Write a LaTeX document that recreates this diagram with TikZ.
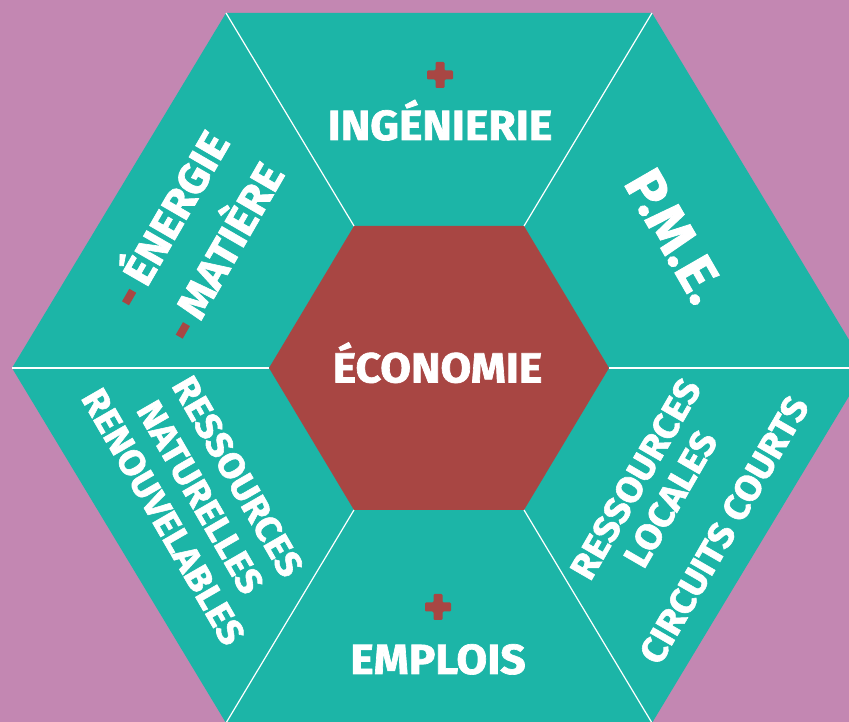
\documentclass[tikz,border=0pt]{standalone}
\usepackage{fontspec}
\setmainfont{Fira Sans}[BoldFeatures={FakeBold=1.6, FakeStretch=1.06}]
\definecolor{bgpurple}{HTML}{C387B2}
\definecolor{hexteal}{HTML}{1CB5A7}
\definecolor{hexred}{HTML}{A84643}
\newcommand{\reddash}{\textcolor{hexred}{\rule[7pt]{14.5pt}{8pt}}\hspace{9pt}}
\begin{document}
\begin{tikzpicture}[x=1pt,y=1pt,
  lbl/.style={text=white, inner sep=0pt, anchor=center, text depth=0pt},
  title/.style={lbl, font=\fontsize{42}{48}\selectfont\bfseries, text height=28.9pt},
  sidetxt/.style={lbl, font=\fontsize{42}{48}\selectfont\bfseries, text height=28.9pt},
  smalltxt/.style={lbl, font=\fontsize{36}{42}\selectfont\bfseries, text height=24.8pt},
  bigtxt/.style={lbl, font=\fontsize{54}{60}\selectfont\bfseries, text height=37.2pt},
  divider/.style={white, line width=1.2pt},
  plussign/.style={fill=hexred, rounded corners=1.2pt}]
\useasboundingbox (0,0) rectangle (849,722);
\clip (0,0) rectangle (849,722);
\fill[bgpurple] (0,0) rectangle (849,722);
% outer hexagon vertices
\coordinate (O1) at (226,709);
\coordinate (O2) at (652,709);
\coordinate (O3) at (866,354);
\coordinate (O4) at (652,-1);
\coordinate (O5) at (226,-1);
\coordinate (O6) at (12,354);
% inner hexagon vertices
\coordinate (I1) at (354,496);
\coordinate (I2) at (524,496);
\coordinate (I3) at (609,354);
\coordinate (I4) at (524,212);
\coordinate (I5) at (354,212);
\coordinate (I6) at (269,354);
\fill[hexteal] (O1)--(O2)--(O3)--(O4)--(O5)--(O6)--cycle;
\fill[hexred] (I1)--(I2)--(I3)--(I4)--(I5)--(I6)--cycle;
\foreach \k in {1,...,6}{\draw[divider] (I\k) -- (O\k);}
% plus signs
\fill[plussign] (435.5,660)--(444.5,660)--(444.5,651.5)--(453,651.5)--(453,642.5)--(444.5,642.5)--(444.5,634)--(435.5,634)--(435.5,642.5)--(427,642.5)--(427,651.5)--(435.5,651.5)--cycle;
\fill[plussign] (433.5,128)--(442.5,128)--(442.5,119.5)--(451,119.5)--(451,110.5)--(442.5,110.5)--(442.5,102)--(433.5,102)--(433.5,110.5)--(425,110.5)--(425,119.5)--(433.5,119.5)--cycle;
% texts
\node[title] (eco) at (437.5,354) {ÉCONOMIE};
\node[title] (ing) at (440,596.5) {INGÉNIERIE};
\node[title] (emp) at (438,62.5) {EMPLOIS};
\node[bigtxt, rotate=-60] (pme) at (675,486) {P.M.E.};
\node[sidetxt, rotate=60] (ener) at (170.5,503.5) {\reddash ÉNERGIE};
\node[sidetxt, rotate=60] (mat) at (224.7,471) {\reddash MATIÈRE};
\node[smalltxt, rotate=-60] (rn1) at (237.8,245.5) {RESSOURCES};
\node[smalltxt, rotate=-60] (rn2) at (200.3,224.8) {NATURELLES};
\node[smalltxt, rotate=-60] (rn3) at (163.3,205.3) {RENOUVELABLES};
\node[smalltxt, rotate=60] (rl1) at (635.6,243) {RESSOURCES};
\node[smalltxt, rotate=60] (rl2) at (670.6,223) {LOCALES};
\node[smalltxt, rotate=60] (rl3) at (724.1,192) {CIRCUITS COURTS};
\end{tikzpicture}
\end{document}
